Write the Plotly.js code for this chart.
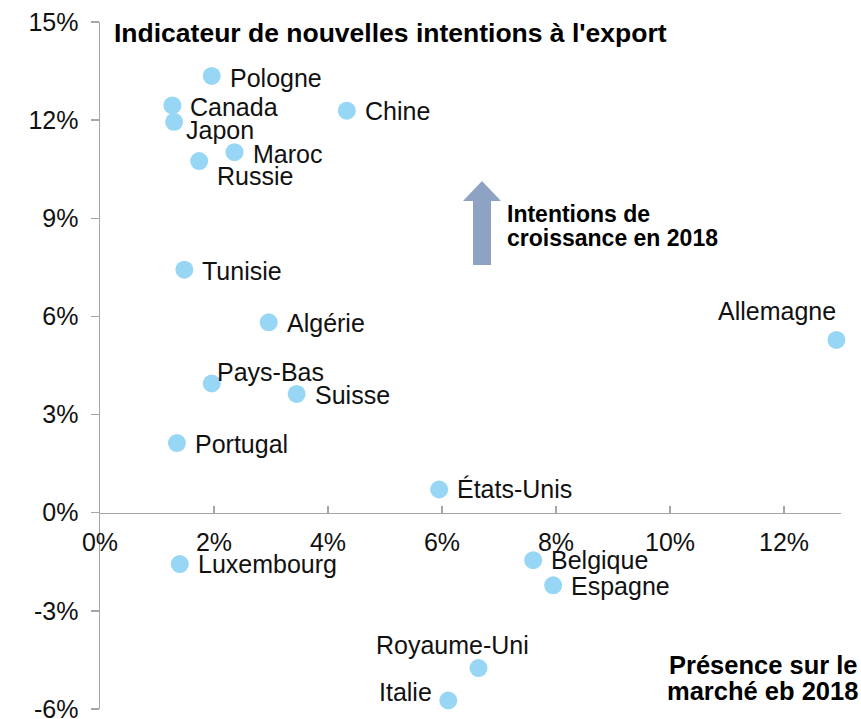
<!DOCTYPE html>
<html>
<head>
<meta charset="utf-8">
<script src="https://cdn.plot.ly/plotly-3.0.1.min.js"></script>
<style>html,body{margin:0;padding:0;background:#fff;}#chart{width:861px;height:719px;}</style>
</head>
<body>
<div id="chart"></div>
<script>
// ---- data ----
var countries = ["Pologne","Canada","Japon","Chine","Maroc","Russie","Tunisie","Algérie","Allemagne","Pays-Bas","Suisse","Portugal","États-Unis","Luxembourg","Belgique","Espagne","Royaume-Uni","Italie"];
var presence  = [1.96, 1.27, 1.30, 4.33, 2.36, 1.74, 1.48, 2.96, 12.92, 1.96, 3.45, 1.35, 5.95, 1.40, 7.60, 7.95, 6.64, 6.11];
var intentions = [13.35, 12.45, 11.95, 12.29, 11.02, 10.75, 7.43, 5.82, 5.28, 3.95, 3.63, 2.13, 0.71, -1.57, -1.45, -2.22, -4.75, -5.74];
var xTicks = [0, 2, 4, 6, 8, 10, 12];
var yTicks = [-6, -3, 0, 3, 6, 9, 12, 15];

// ---- label placement (style) ----
var labelAnchor = ["left","left","left","left","left","left","left","left","right","left","left","left","left","left","left","left","center","right"];
var labelDx = [16, 16, 10, 16, 16, 16, 16, 16, 2, 3, 16, 16, 16, 16, 16, 16, -26, -14];
var labelDy = [-2, -2, -8, 0, -2, -15, -1, -1, 29, 11, -1, -1, 0, 0, 0, -1, 23, 8];

var FONT = "Liberation Sans, Arial, sans-serif";
var X0 = 0, X1 = 13, Y0 = -6, Y1 = 15;

var annotations = countries.map(function(c, i) {
  return {
    x: presence[i], y: intentions[i], xref: "x", yref: "y",
    text: c, showarrow: false,
    xanchor: labelAnchor[i], yanchor: "middle",
    xshift: labelDx[i], yshift: labelDy[i],
    font: {family: FONT, size: 25, color: "#111"}
  };
});

function para(text, x, y, xanchor, size) {
  return {text: text, xref: "paper", yref: "paper", x: x, y: y, xanchor: xanchor, yanchor: "middle",
    showarrow: false, font: {family: FONT, size: size, color: "#000"}};
}
// pixel helpers for plot-area paper coords (plot area 100..841 x, 22..709 y)
function px(p){ return (p - 100) / 741; }
function py(p){ return (709 - p) / 687; }

annotations.push(para("<b>Intentions de</b>", px(505), py(214), "left", 23));
annotations.push(para("<b>croissance en 2018</b>", px(505), py(238), "left", 23));
annotations.push(para("<b>Présence sur le</b>", px(860), py(665), "right", 25.5));
annotations.push(para("<b>marché eb 2018</b>", px(860), py(691), "right", 25.5));

var arrowPath = "M " + px(473) + "," + py(265) + " L " + px(491) + "," + py(265) +
  " L " + px(491) + "," + py(201) + " L " + px(501) + "," + py(201) +
  " L " + px(482) + "," + py(181) + " L " + px(463) + "," + py(201) +
  " L " + px(473) + "," + py(201) + " Z";

var trace = {
  type: "scatter", mode: "markers",
  x: presence, y: intentions, text: countries,
  marker: {size: 18, color: "#97D7F5", line: {width: 0}},
  cliponaxis: false, hoverinfo: "skip"
};

var axisColor = "#A6A6A6";
var layout = {
  width: 861, height: 719,
  margin: {l: 100, r: 20, t: 22, b: 10},
  paper_bgcolor: "#fff", plot_bgcolor: "#fff",
  showlegend: false,
  title: {
    text: "<b>Indicateur de nouvelles intentions à l'export</b>",
    xref: "paper", yref: "paper", x: px(114), xanchor: "left", y: py(33), yanchor: "middle",
    font: {family: FONT, size: 26.5, color: "#000"}
  },
  xaxis: {
    range: [X0, X1], tickvals: xTicks, ticktext: xTicks.map(function(v){return v + "%";}),
    showgrid: false, zeroline: false, showline: true, linecolor: axisColor, linewidth: 1.5,
    ticks: "inside", ticklen: 7, tickcolor: axisColor, tickwidth: 1.5,
    anchor: "free", position: (0 - Y0) / (Y1 - Y0),
    tickfont: {family: FONT, size: 25, color: "#111"}, ticklabelstandoff: 7,
    ticklabeloverflow: "allow",
    fixedrange: true
  },
  yaxis: {
    range: [Y0, Y1], tickvals: yTicks, ticktext: yTicks.map(function(v){return v + "%";}),
    showgrid: false, zeroline: false, showline: true, linecolor: axisColor, linewidth: 1.5,
    ticks: "outside", ticklen: 8, tickcolor: axisColor, tickwidth: 1.5,
    tickfont: {family: FONT, size: 25, color: "#111"}, ticklabelstandoff: 7,
    ticklabeloverflow: "allow",
    fixedrange: true
  },
  shapes: [{type: "path", xref: "paper", yref: "paper", path: arrowPath, fillcolor: "#8EA3C4", line: {width: 0}}],
  annotations: annotations
};

Plotly.newPlot("chart", [trace], layout, {displayModeBar: false, staticPlot: true});
</script>
</body>
</html>
